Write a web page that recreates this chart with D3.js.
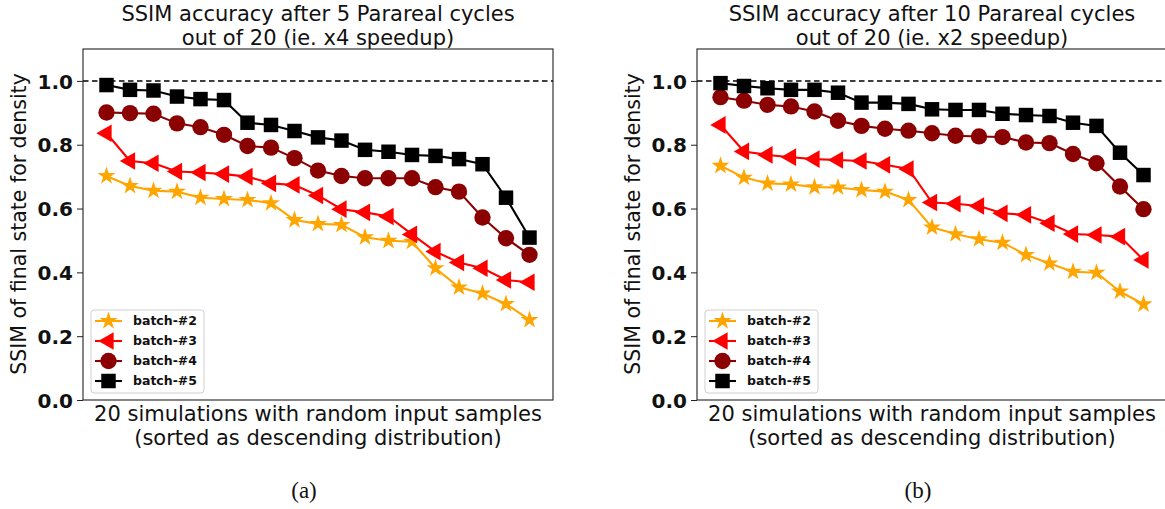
<!DOCTYPE html>
<meta charset="utf-8">
<style>
body { margin: 0; background: white; }
text { font-family: 'DejaVu Sans', sans-serif; fill: #111; }
.tick text { font-weight: bold; }
</style>
<svg width="1165" height="509"></svg>
<script src="https://d3js.org/d3.v7.min.js"></script>
<script>

// 19 sorted simulations per batch
var batch2a = [0.702, 0.671, 0.656, 0.653, 0.634, 0.630, 0.627, 0.617, 0.564, 0.552, 0.549, 0.510, 0.499, 0.496, 0.413, 0.353, 0.334, 0.301, 0.251];
var batch3a = [0.836, 0.749, 0.742, 0.716, 0.713, 0.708, 0.700, 0.679, 0.674, 0.641, 0.598, 0.588, 0.575, 0.519, 0.465, 0.431, 0.413, 0.376, 0.369];
var batch4a = [0.901, 0.899, 0.897, 0.867, 0.855, 0.831, 0.796, 0.791, 0.758, 0.719, 0.702, 0.695, 0.695, 0.695, 0.667, 0.653, 0.572, 0.507, 0.455];
var batch5a = [0.987, 0.972, 0.970, 0.951, 0.943, 0.940, 0.869, 0.862, 0.843, 0.823, 0.813, 0.784, 0.778, 0.768, 0.765, 0.755, 0.739, 0.634, 0.509];

var batch2b = [0.734, 0.697, 0.679, 0.676, 0.667, 0.666, 0.658, 0.653, 0.627, 0.541, 0.520, 0.504, 0.493, 0.455, 0.428, 0.402, 0.399, 0.340, 0.300];
var batch3b = [0.862, 0.779, 0.768, 0.761, 0.755, 0.752, 0.749, 0.737, 0.724, 0.619, 0.615, 0.608, 0.585, 0.580, 0.554, 0.520, 0.517, 0.512, 0.439];
var batch4b = [0.949, 0.938, 0.925, 0.920, 0.904, 0.875, 0.859, 0.850, 0.844, 0.836, 0.828, 0.826, 0.824, 0.807, 0.805, 0.771, 0.742, 0.669, 0.598];
var batch5b = [0.993, 0.984, 0.977, 0.972, 0.972, 0.963, 0.932, 0.932, 0.928, 0.911, 0.909, 0.909, 0.897, 0.893, 0.890, 0.869, 0.859, 0.775, 0.705];

var names = ["batch-#2", "batch-#3", "batch-#4", "batch-#5"];
var colors = ["orange", "red", "#8b0000", "black"];
var yTicks = [0, 0.2, 0.4, 0.6, 0.8, 1.0];
var titlesA = ["SSIM accuracy after 5 Parareal cycles", "out of 20 (ie. x4 speedup)"];
var titlesB = ["SSIM accuracy after 10 Parareal cycles", "out of 20 (ie. x2 speedup)"];
var xLabel = ["20 simulations with random input samples", "(sorted as descending distribution)"];
var yLabel = "SSIM of final state for density";

var svg = d3.select("svg");

// marker shapes, one per batch
var shapes = [
    d3.symbol().type(d3.symbolStar).size(100),
    d3.symbol().type(d3.symbolTriangle).size(135),
    d3.symbol().type(d3.symbolCircle).size(210),
    d3.symbol().type(d3.symbolSquare).size(210)
];
var rot = [0, -90, 0, 0];

function panel(left, series, titles, caption) {
    var top = 49, bottom = 400, width = 470;
    var g = svg.append("g");

    var x = d3.scaleLinear().domain([-1, 19]).range([left, left + width]);
    var y = d3.scaleLinear().domain([0, 1.1]).range([bottom, top]);

    // titles
    g.selectAll(".title").data(titles).enter().append("text")
        .attr("x", left + width / 2)
        .attr("y", function (d, i) { return 21 + i * 23.5; })
        .attr("text-anchor", "middle")
        .style("font-size", "21px")
        .text(function (d) { return d; });

    // reference line at 1.0
    g.append("line")
        .attr("x1", left).attr("x2", left + width)
        .attr("y1", y(1)).attr("y2", y(1))
        .style("stroke", "black")
        .style("stroke-width", 1.5)
        .style("stroke-dasharray", "5.5,3.5");

    var line = d3.line()
        .x(function (d, i) { return x(i); })
        .y(function (d) { return y(d); });

    series.forEach(function (s, k) {
        g.append("path")
            .datum(s)
            .attr("d", line)
            .style("fill", "none")
            .style("stroke", colors[k])
            .style("stroke-width", 2.1);
        g.selectAll(".m" + k).data(s).enter().append("path")
            .attr("d", shapes[k])
            .attr("transform", function (d, i) {
                return "translate(" + x(i) + "," + y(d) + ") rotate(" + rot[k] + ")";
            })
            .style("fill", colors[k]);
    });

    // frame
    g.append("rect")
        .attr("x", left).attr("y", top)
        .attr("width", width).attr("height", bottom - top)
        .style("fill", "none")
        .style("stroke", "#222")
        .style("stroke-width", 1.1);

    var ax = g.append("g")
        .attr("transform", "translate(" + left + ",0)")
        .call(d3.axisLeft(y).tickValues(yTicks).tickFormat(d3.format(".1f")).tickSize(6).tickPadding(4));
    ax.select(".domain").remove();
    ax.selectAll(".tick text").style("font-size", "20px").style("fill", "#111").attr("dy", "0.36em");
    ax.selectAll(".tick line").style("stroke", "#222");

    g.append("text")
        .attr("transform", "translate(" + (left - 57) + "," + ((top + bottom) / 2 - 0.5) + ") rotate(-90)")
        .attr("text-anchor", "middle")
        .style("font-size", "20.5px")
        .text(yLabel);

    g.selectAll(".xl").data(xLabel).enter().append("text")
        .attr("x", left + width / 2)
        .attr("y", function (d, i) { return 421 + i * 23.5; })
        .attr("text-anchor", "middle")
        .style("font-size", "21px")
        .text(function (d) { return d; });

    // legend
    var lg = g.append("g").attr("transform", "translate(" + (left + 8) + ",310)");
    lg.append("rect")
        .attr("width", 113).attr("height", 83).attr("rx", 3)
        .style("fill", "white").style("fill-opacity", 0.8)
        .style("stroke", "#d0d0d0");
    names.forEach(function (n, k) {
        var row = lg.append("g").attr("transform", "translate(0," + (11 + k * 20) + ")");
        row.append("line").attr("x1", 4).attr("x2", 31)
            .style("stroke", colors[k]).style("stroke-width", 2.1);
        row.append("path").attr("d", shapes[k])
            .attr("transform", "translate(17.5,0) rotate(" + rot[k] + ")")
            .style("fill", colors[k]);
        row.append("text").attr("x", 42).attr("dy", "0.35em")
            .style("font-size", "12.5px").style("font-weight", "bold")
            .text(n);
    });

    g.append("text")
        .attr("x", left + width / 2 - 14)
        .attr("y", 498)
        .attr("text-anchor", "middle")
        .style("font-family", "'Liberation Serif', serif")
        .style("font-size", "23px")
        .text(caption);
}

panel(83, [batch2a, batch3a, batch4a, batch5a], titlesA, "(a)");
panel(697, [batch2b, batch3b, batch4b, batch5b], titlesB, "(b)");

</script>
